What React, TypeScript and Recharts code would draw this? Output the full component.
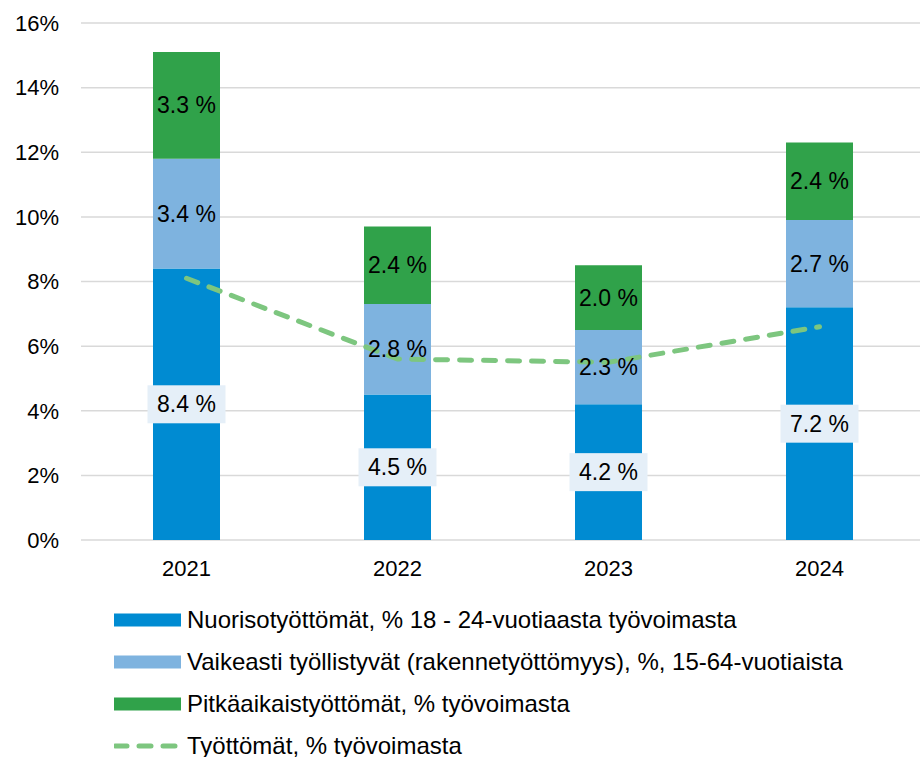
import {
  Bar,
  CartesianGrid,
  ComposedChart,
  LabelList,
  Line,
  XAxis,
  YAxis,
} from 'recharts'

// Työttömyysindikaattorit vuosittain (%)
const years = ['2021', '2022', '2023', '2024']
const nuoriso = [8.4, 4.5, 4.2, 7.2]
const rakenne = [3.4, 2.8, 2.3, 2.7]
const pitkaaikais = [3.3, 2.4, 2.0, 2.4]
const tyottomat = [8.1, 5.6, 5.5, 6.6]
const yTicks = [0, 2, 4, 6, 8, 10, 12, 14, 16]

const seriesNames = {
  nuoriso: 'Nuorisotyöttömät, % 18 - 24-vuotiaasta työvoimasta',
  rakenne: 'Vaikeasti työllistyvät (rakennetyöttömyys), %, 15-64-vuotiaista',
  pitkaaikais: 'Pitkäaikaistyöttömät, % työvoimasta',
  tyottomat: 'Työttömät, % työvoimasta',
}

const COLORS = {
  nuoriso: '#008BD2',
  rakenne: '#7EB3DF',
  pitkaaikais: '#30A24A',
  tyottomat: '#7DC67F',
  grid: '#D9D9D9',
  labelBox: '#E5EFF8',
}

const FONT = '"Liberation Sans", Arial, sans-serif'

const data = years.map((year, i) => ({
  year,
  nuoriso: nuoriso[i],
  rakenne: rakenne[i],
  pitkaaikais: pitkaaikais[i],
  tyottomat: tyottomat[i],
}))

const fmt = (v: number) => `${v.toFixed(1)} %`

function PlainLabel(props: any) {
  const { x, y, width, height, value } = props
  return (
    <text
      x={x + width / 2}
      y={y + height / 2}
      textAnchor="middle"
      dominantBaseline="central"
      fontSize={23}
      fill="#000"
      fontFamily={FONT}
    >
      {fmt(value)}
    </text>
  )
}

// etiketti vaalealla taustalaatikolla (alin sarja)
function BoxLabel(props: any) {
  const { x, y, width, height, value } = props
  const cx = x + width / 2
  const cy = y + height / 2
  return (
    <g>
      <rect x={cx - 39} y={cy - 19} width={78} height={38} fill={COLORS.labelBox} />
      <text
        x={cx}
        y={cy}
        textAnchor="middle"
        dominantBaseline="central"
        fontSize={23}
        fill="#000"
        fontFamily={FONT}
      >
        {fmt(value)}
      </text>
    </g>
  )
}

function LegendRow({ kind, color, label }: { kind: 'bar' | 'line'; color: string; label: string }) {
  return (
    <div style={{ display: 'flex', alignItems: 'center', height: 42 }}>
      <svg width={73} height={14} style={{ flex: 'none' }}>
        {kind === 'bar' ? (
          <rect x={0} y={0.5} width={67} height={13} fill={color} />
        ) : (
          <line
            x1={1}
            y1={7}
            x2={66}
            y2={7}
            stroke={color}
            strokeWidth={5}
            strokeDasharray="12 12"
            strokeLinecap="round"
          />
        )}
      </svg>
      <span style={{ fontSize: 24, color: '#000', whiteSpace: 'nowrap' }}>{label}</span>
    </div>
  )
}

export default function App() {
  return (
    <div
      style={{
        position: 'absolute',
        left: 0,
        top: 0,
        width: 920,
        height: 757,
        overflow: 'hidden',
        background: '#fff',
        fontFamily: FONT,
      }}
    >
      <ComposedChart
        width={925}
        height={600}
        data={data}
        margin={{ top: 23, right: 0, bottom: 30, left: 0 }}
      >
        <CartesianGrid vertical={false} stroke={COLORS.grid} strokeWidth={1.5} />
        <XAxis
          dataKey="year"
          axisLine={false}
          tickLine={false}
          tickMargin={14}
          tick={{ fontSize: 22, fill: '#000', fontFamily: FONT }}
        />
        <YAxis
          type="number"
          domain={[0, 16]}
          ticks={yTicks}
          interval={0}
          width={81}
          axisLine={false}
          tickLine={false}
          tickMargin={16}
          tickFormatter={(v: number) => `${v}%`}
          tick={{ fontSize: 22, fill: '#000', fontFamily: FONT }}
        />
        <Bar
          dataKey="nuoriso"
          name={seriesNames.nuoriso}
          stackId="a"
          fill={COLORS.nuoriso}
          barSize={67}
          isAnimationActive={false}
        >
          <LabelList dataKey="nuoriso" content={<BoxLabel />} />
        </Bar>
        <Bar
          dataKey="rakenne"
          name={seriesNames.rakenne}
          stackId="a"
          fill={COLORS.rakenne}
          barSize={67}
          isAnimationActive={false}
        >
          <LabelList dataKey="rakenne" content={<PlainLabel />} />
        </Bar>
        <Bar
          dataKey="pitkaaikais"
          name={seriesNames.pitkaaikais}
          stackId="a"
          fill={COLORS.pitkaaikais}
          barSize={67}
          isAnimationActive={false}
        >
          <LabelList dataKey="pitkaaikais" content={<PlainLabel />} />
        </Bar>
        <Line
          type="linear"
          dataKey="tyottomat"
          name={seriesNames.tyottomat}
          stroke={COLORS.tyottomat}
          strokeWidth={5}
          strokeDasharray="12 12"
          strokeLinecap="round"
          dot={false}
          activeDot={false}
          isAnimationActive={false}
        />
      </ComposedChart>
      <div style={{ position: 'absolute', left: 114, top: 599 }}>
        <LegendRow kind="bar" color={COLORS.nuoriso} label={seriesNames.nuoriso} />
        <LegendRow kind="bar" color={COLORS.rakenne} label={seriesNames.rakenne} />
        <LegendRow kind="bar" color={COLORS.pitkaaikais} label={seriesNames.pitkaaikais} />
        <LegendRow kind="line" color={COLORS.tyottomat} label={seriesNames.tyottomat} />
      </div>
    </div>
  )
}
